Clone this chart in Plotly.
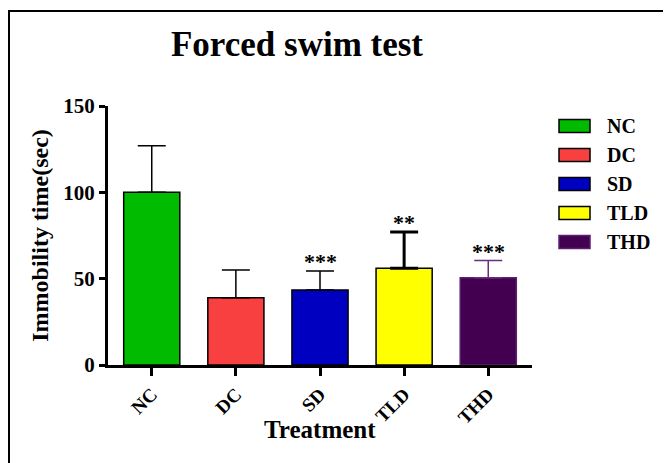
import plotly.graph_objects as go

categories = ["NC", "DC", "SD", "TLD", "THD"]
means = [100, 39, 43.5, 56, 50.5]
sem_plus = [27, 16, 11, 21, 10]
stars = ["", "", "***", "**", "***"]
colors = ["#00BB00", "#F84040", "#0000C0", "#FFFF00", "#440050"]
outline_colors = ["#000000", "#000000", "#000000", "#000000", "#5A2070"]
err_colors = ["#000000", "#000000", "#000000", "#000000", "#6A2D80"]
err_widths = [1.5, 1.5, 1.5, 3, 1.5]
y_ticks = [0, 50, 100, 150]

FONT = "Liberation Serif"

# The page body adds an 8px offset; work in screen pixels and convert.
OFF = 8
W, H = 671 - OFF, 463 - OFF
# plot area in screen pixels
SL, SR, ST, SB = 108, 532, 106, 365
L, R, T, B = SL - OFF, SR - OFF, ST - OFF, SB - OFF


def px(xs):
    return (xs - SL) / (SR - SL)


def py(ys):
    return (SB - ys) / (SB - ST)


fig = go.Figure()
for i, c in enumerate(categories):
    fig.add_trace(go.Bar(
        x=[c], y=[means[i]], name=c, width=0.667,
        marker=dict(color=colors[i], line=dict(color=outline_colors[i], width=1.5)),
        error_y=dict(type="data", symmetric=False, array=[sem_plus[i]], arrayminus=[0],
                     color=err_colors[i], thickness=err_widths[i], width=14),
        showlegend=False,
    ))

annotations = []
for i, c in enumerate(categories):
    if stars[i]:
        annotations.append(dict(
            x=c, y=means[i] + sem_plus[i], xref="x", yref="y", text=stars[i],
            showarrow=False, yanchor="bottom", yshift=-5,
            font=dict(family=FONT, size=22, color="black", weight="bold"),
        ))

# x-axis title
annotations.append(dict(
    x=px(320), y=py(429), xref="paper", yref="paper", text="Treatment", showarrow=False,
    xanchor="center", yanchor="middle",
    font=dict(family=FONT, size=25, color="black", weight="bold"),
))

shapes = []
# outer border
shapes.append(dict(type="rect", xref="paper", yref="paper",
                   x0=px(OFF + 1), x1=px(667), y0=py(480), y1=py(11),
                   line=dict(color="black", width=2), fillcolor="rgba(0,0,0,0)", layer="below"))

# manual legend
for i, c in enumerate(categories):
    cy = 126 + 29 * i
    shapes.append(dict(type="rect", xref="paper", yref="paper",
                       x0=px(559), x1=px(590), y0=py(cy + 6.5), y1=py(cy - 6.5),
                       fillcolor=colors[i], line=dict(color=outline_colors[i], width=1.5)))
    annotations.append(dict(
        x=px(605), y=py(cy), xref="paper", yref="paper", text=c, showarrow=False,
        xanchor="left", yanchor="middle",
        font=dict(family=FONT, size=20, color="black", weight="bold"),
    ))

fig.update_layout(
    width=W, height=H,
    margin=dict(l=L, r=W - R, t=T, b=H - B, pad=0),
    paper_bgcolor="white", plot_bgcolor="white",
    barmode="overlay",
    title=dict(text="Forced swim test", x=(297 - OFF) / W, xanchor="center",
               y=1 - (44 - OFF) / H, yanchor="middle",
               font=dict(family=FONT, size=35, color="black", weight="bold")),
    xaxis=dict(
        type="category", categoryorder="array", categoryarray=categories,
        range=[-0.52, 4.52], showline=True, linecolor="black", linewidth=2.5,
        ticks="outside", ticklen=8, tickwidth=3, tickcolor="black",
        tickangle=-45, showgrid=False, zeroline=False,
        tickfont=dict(family=FONT, size=19, color="black", weight="bold"),
    ),
    yaxis=dict(
        range=[0, 150], tickvals=y_ticks, showline=True, linecolor="black", linewidth=3,
        ticks="outside", ticklen=6, tickwidth=2.5, tickcolor="black",
        showgrid=False, zeroline=False,
        tickfont=dict(family=FONT, size=21, color="black", weight="bold"),
        title=dict(text="Immobility time(sec)", standoff=8,
                   font=dict(family=FONT, size=24, color="black", weight="bold")),
    ),
    annotations=annotations,
    shapes=shapes,
)

fig.write_html("out.html")
